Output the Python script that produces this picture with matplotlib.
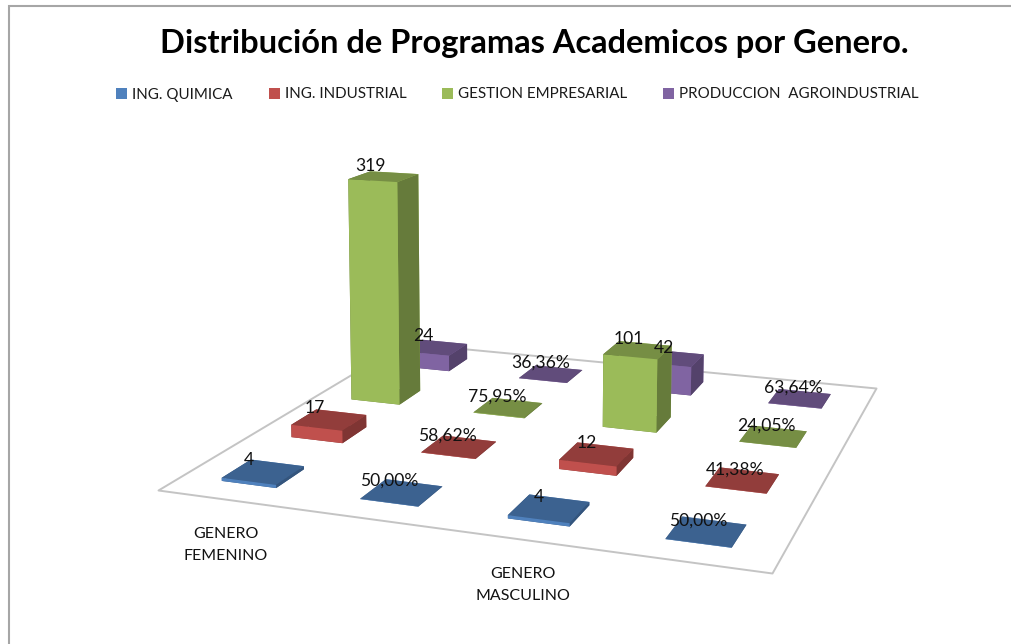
import matplotlib
matplotlib.use("Agg")
import matplotlib.pyplot as plt
import numpy as np
from matplotlib.patches import Rectangle
from mpl_toolkits.mplot3d.art3d import Poly3DCollection

plt.rcParams['font.family'] = ['Lato', 'DejaVu Sans']

title = "Distribución de Programas Academicos por Genero."
series_names = ['ING. QUIMICA', 'ING. INDUSTRIAL', 'GESTION EMPRESARIAL', 'PRODUCCION  AGROINDUSTRIAL']
colors = ['#4F81BD', '#C0504D', '#9BBB59', '#8064A2']
group_labels = ['GENERO\nFEMENINO', 'GENERO\nMASCULINO']

# columns: femenino, % femenino, masculino, % masculino
quimica = [4, 50.00, 4, 50.00]
industrial = [17, 58.62, 12, 41.38]
gestion = [319, 75.95, 101, 24.05]
produccion = [24, 36.36, 42, 63.64]
is_pct = [False, True, False, True]
all_series = [quimica, industrial, gestion, produccion]

W, H = 1011, 644
n_col, n_row = 4, 4

# camera fitted to the floor corners of the picture (pixels, y down)
src = [(0, 0), (n_col, 0), (n_col, n_row), (0, n_row)]
dst = [(158, 490), (772, 573), (876, 388), (404, 343)]
rows, rhs = [], []
for (x, y), (u, v) in zip(src, dst):
    rows.append([x, y, 1, 0, 0, 0, -u * x, -u * y])
    rows.append([0, 0, 0, x, y, 1, -v * x, -v * y])
    rhs += [u, v]
h = np.linalg.solve(np.array(rows, float), np.array(rhs, float))
h = np.append(h, 1).reshape(3, 3)

# vertical direction: pixels per unit near the middle of the floor
vanish = np.array([520, 12000, 1.0])
w_mid = h[2] @ [1.5, 2.5, 1]
s = -0.69 * w_mid / 11600
cam = np.column_stack([h[:, 0], h[:, 1], s * vanish, h[:, 2]])


def to_px(x, y, z):
    p = cam @ [x, y, z, 1]
    return p[0] / p[2], p[1] / p[2]


def shade(c, f):
    return tuple(np.array(matplotlib.colors.to_rgb(c)) * f)


fig = plt.figure(figsize=(W / 100, H / 100), dpi=100)
ax = fig.add_axes([0, 0, 1, 1], projection='3d')
ax.set_axis_off()
ax.computed_zorder = False


def get_proj():
    # pixels -> whatever the 3d axes uses for its 2d coordinates
    inv = ax.transData.inverted()
    o = inv.transform((0, H))
    ex = inv.transform((1, H)) - o
    ey = inv.transform((0, H - 1)) - o
    A = np.array([[ex[0], ey[0], o[0]], [ex[1], ey[1], o[1]], [0, 0, 1]])
    top = A @ cam
    depth = [-0.25, 1, -0.004, 0]
    return np.vstack([top[0], top[1], depth, top[2]])


ax.get_proj = get_proj

floor = Poly3DCollection([[(0, 0, 0), (n_col, 0, 0), (n_col, n_row, 0), (0, n_row, 0)]],
                         facecolor='white', edgecolor='#C4C4C4', linewidth=1.4, zorder=1)
ax.add_collection3d(floor)
floor.set_clip_on(False)

bar_w = 0.40
bar_d = 0.40
order = 2
for j in range(n_row - 1, -1, -1):
    c = colors[j]
    for i in range(n_col):
        v = all_series[j][i]
        top = v / 100 if is_pct[i] else v
        x0 = i + 0.5 - bar_w / 2
        y0 = j + 0.5 - bar_d / 2
        faces = [shade(c, 0.7), shade(c, 0.76), c, c, shade(c, 0.66), shade(c, 0.66)]
        col = ax.bar3d(x0, y0, 0, bar_w, bar_d, top, color=faces, shade=False, zorder=order)
        col.set_clip_on(False)
        order += 1

# bar3d autoscales, the camera above does not care
for j in range(n_row):
    for i in range(n_col):
        v = all_series[j][i]
        top = v / 100 if is_pct[i] else v
        lab = f"{v:.2f}%".replace('.', ',') if is_pct[i] else str(v)
        px, py = to_px(i * 1.02 + 0.39, j + 0.5, top)
        fig.text(px / W, 1 - (py - 10) / H, lab, fontsize=12.6, ha='center', va='center', color='#111111')

fig.text(226 / W, 1 - 545 / H, group_labels[0], fontsize=11.5, ha='center', va='center', color='#111111', linespacing=1.75)
fig.text(523 / W, 1 - 585 / H, group_labels[1], fontsize=11.5, ha='center', va='center', color='#111111', linespacing=1.75)

# frame
fig.add_artist(Rectangle((8.5 / W, -0.1), 1.2, 1.1 - 5.5 / H, transform=fig.transFigure,
                         fill=False, edgecolor='#A6A6A6', lw=1.5))
fig.text(534 / W, 1 - 43 / H, title, ha='center', va='center', fontsize=23.5, fontweight='bold', color='black')

leg_x = [116, 269, 442, 663]
for name, c, lx in zip(series_names, colors, leg_x):
    fig.add_artist(Rectangle((lx / W, 1 - 99 / H), 11 / W, 11 / H, transform=fig.transFigure,
                             facecolor=c, edgecolor='none'))
    fig.text((lx + 16) / W, 1 - 94.5 / H, name, fontsize=10.9, va='center', ha='left', color='#1A1A1A')

fig.savefig('out.png', dpi=100)
